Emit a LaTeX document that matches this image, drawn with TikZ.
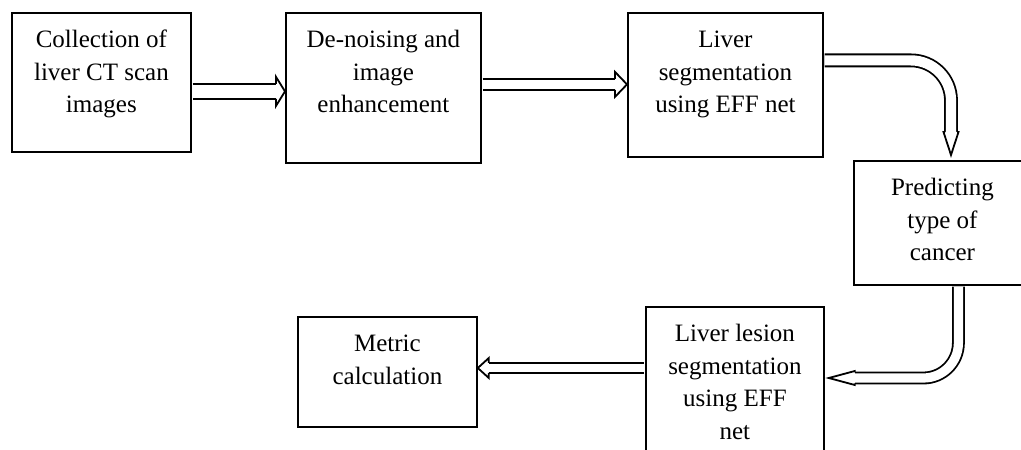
\documentclass[tikz,border=0pt]{standalone}
\usepackage{fontspec}
\setmainfont{Liberation Serif}
\usetikzlibrary{calc}
\newcommand{\boxtxt}[3]{\parbox[c][#1pt][t]{#2pt}{\centering\rule{0pt}{35pt}#3\par}}
\begin{document}
\begin{tikzpicture}[x=1pt,y=1pt,
  blk/.style={draw, line width=1.8pt, inner sep=0pt, anchor=north west,
    font=\fontsize{25}{32.5}\selectfont},
  shaft/.style={draw=black, line width=1.8pt, double=white, shorten <=0.9pt},
  head/.style={draw=black, fill=white, line width=1.8pt, line join=miter}]
\useasboundingbox (0,0) rectangle (1021,450);
% boxes
\node[blk] (b1) at (11,438)  {\boxtxt{139}{179}{Collection of\\liver CT scan\\images}};
\node[blk] (b2) at (285,438) {\boxtxt{150}{195}{De-noising and\\image\\enhancement}};
\node[blk] (b3) at (627,438) {\boxtxt{144}{195}{Liver\\segmentation\\using EFF net}};
\node[blk] (b4) at (853,290) {\boxtxt{124}{177}{Predicting\\type of\\cancer}};
\node[blk] (b5) at (645,144) {\boxtxt{170}{178}{Liver lesion\\segmentation\\using EFF\\net}};
\node[blk] (b6) at (297,134) {\boxtxt{110}{179}{Metric\\calculation}};
% arrow 1
\coordinate (s1) at ($(b1.east)+(0,-9)$);
\coordinate (t1) at (b2.west |- s1);
\draw[shaft, double distance=13.2pt] (s1) -- ($(t1)+(-9,0)$);
\filldraw[head] ($(t1)+(-9,7.5)$) -- ($(t1)+(-9,14.5)$) -- (t1) -- ($(t1)+(-9,-14.5)$) -- ($(t1)+(-9,-7.5)$);
% arrow 2
\coordinate (s2) at ($(b2.east)+(0,3.5)$);
\coordinate (t2) at (b3.west |- s2);
\draw[shaft, double distance=9.2pt] (s2) -- ($(t2)+(-12,0)$);
\filldraw[head] ($(t2)+(-12,5.5)$) -- ($(t2)+(-12,12.5)$) -- (t2) -- ($(t2)+(-12,-12.5)$) -- ($(t2)+(-12,-5.5)$);
% arrow 3 (bent, down)
\coordinate (s3) at ($(b3.east)+(0,24.5)$);
\coordinate (t3) at ($(b4.north west)+(98,5)$);
\draw[shaft, double distance=10.2pt, rounded corners=40pt] (s3) -- (t3 |- s3) -- ($(t3)+(0,23)$);
\filldraw[head] ($(t3)+(-6,23)$) -- ($(t3)+(-7.5,23)$) -- (t3) -- ($(t3)+(7.5,23)$) -- ($(t3)+(6,23)$);
% arrow 4 (bent, left)
\coordinate (s4) at ($(b4.south)+(16,0)$);
\coordinate (t4) at ($(b5.north east)+(4,-72)$);
\draw[shaft, double distance=9.2pt, rounded corners=35pt] (s4) -- (s4 |- t4) -- ($(t4)+(26,0)$);
\filldraw[head] ($(t4)+(26,5.5)$) -- ($(t4)+(26,7)$) -- (t4) -- ($(t4)+(26,-7)$) -- ($(t4)+(26,-5.5)$);
% arrow 5
\coordinate (s5) at ($(b5.north west)+(0,-62)$);
\coordinate (t5) at (b6.east |- s5);
\draw[shaft, double distance=8.2pt] (s5) -- ($(t5)+(11,0)$);
\filldraw[head] ($(t5)+(11,5)$) -- ($(t5)+(11,10)$) -- (t5) -- ($(t5)+(11,-10)$) -- ($(t5)+(11,-5)$);
\end{tikzpicture}
\end{document}
